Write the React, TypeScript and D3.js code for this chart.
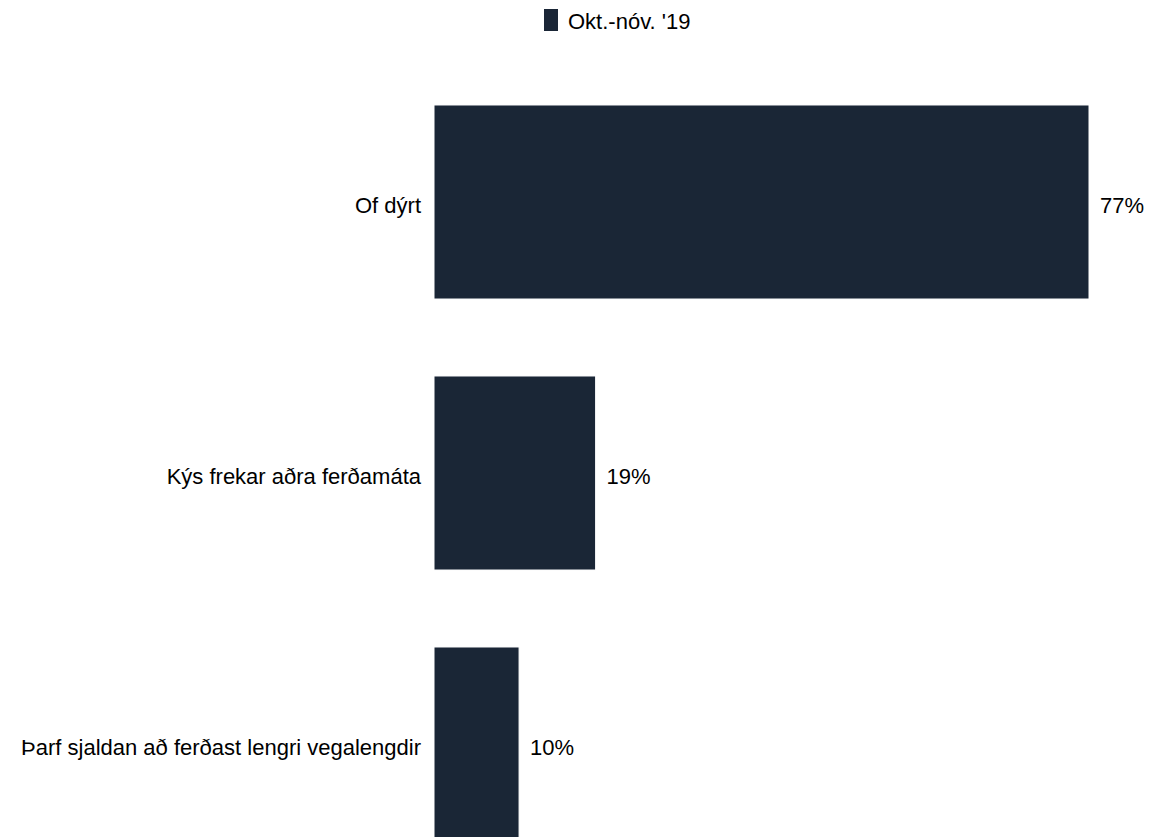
import React from "react";
import * as d3 from "d3";

const categories: string[] = [
  "Of dýrt",
  "Kýs frekar aðra ferðamáta",
  "Þarf sjaldan að ferðast lengri vegalengdir",
];
const values: number[] = [77, 19, 10];
const seriesName = "Okt.-nóv. '19";

const W = 1150;
const H = 837;
const COLOR = "#1a2636";
const FONT = "Arial, 'Liberation Sans', Helvetica, sans-serif";
const FS = 22;

export default function App() {
  const x = d3.scaleLinear().domain([0, 77]).range([434, 1089]);
  const y = d3
    .scaleBand<string>()
    .domain(categories)
    .range([66.5, 66.5 + 3 * 271])
    .paddingInner(0.284)
    .paddingOuter(0.142);

  return (
    <svg
      width={W}
      height={H}
      style={{ position: "absolute", left: 0, top: 0, background: "#fff" }}
      fontFamily={FONT}
    >
      <g>
        <rect x={544} y={9} width={14} height={22} fill={COLOR} />
        <text x={568} y={29} fontSize={FS} fill="#000">
          {seriesName}
        </text>
      </g>
      {categories.map((c, i) => {
        const by = y(c)!;
        const bh = y.bandwidth();
        const cy = by + bh / 2;
        return (
          <g key={c}>
            <rect
              x={x(0)}
              y={by}
              width={x(values[i]) - x(0)}
              height={bh}
              fill={COLOR}
              stroke="#fff"
              strokeWidth={1}
            />
            <text
              x={x(0) - 13}
              y={cy + 11}
              textAnchor="end"
              fontSize={FS}
              fill="#000"
            >
              {c}
            </text>
            <text x={x(values[i]) + 11} y={cy + 11} fontSize={FS} fill="#000">
              {values[i]}%
            </text>
          </g>
        );
      })}
    </svg>
  );
}
